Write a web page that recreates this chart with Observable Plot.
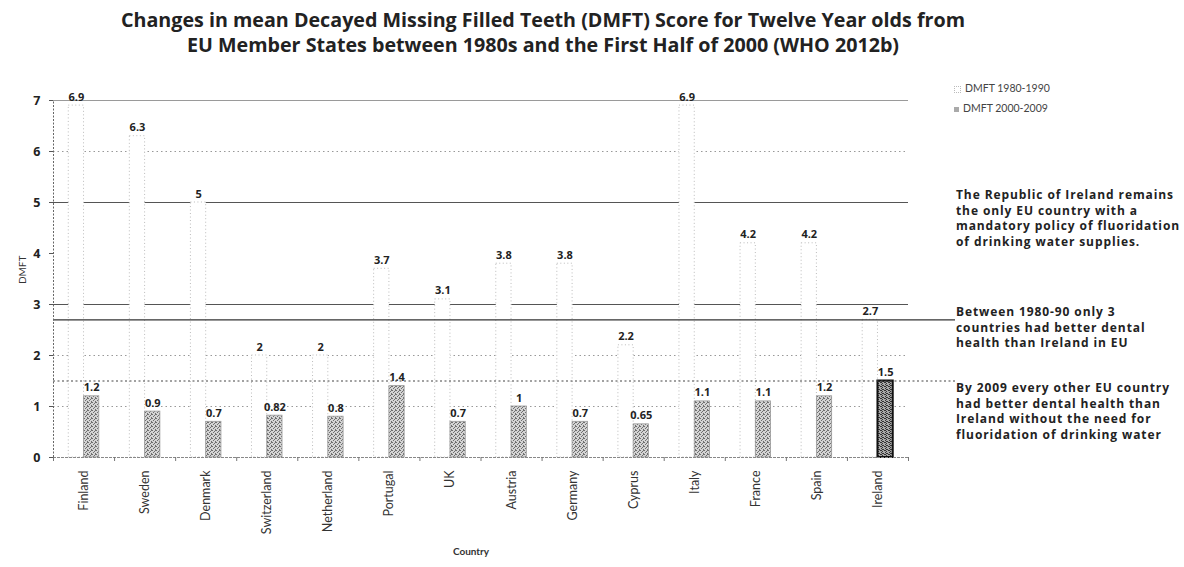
<!DOCTYPE html>
<html><head><meta charset="utf-8">
<script src="https://cdn.jsdelivr.net/npm/d3@7"></script>
<script src="https://cdn.jsdelivr.net/npm/@observablehq/plot@0.6"></script>
<style>
body{margin:0;background:#fff;font-family:Lato,"Open Sans",sans-serif;}
#wrap{position:relative;width:1184px;height:567px;overflow:hidden;background:#fff;}
#title{position:absolute;left:0;top:7px;width:1086px;text-align:center;font-family:"Open Sans",sans-serif;font-weight:700;font-size:19.7px;line-height:25px;color:#222;}
#chart{position:absolute;left:0;top:70px;}
.legend{position:absolute;left:954px;font-size:10.5px;color:#444;line-height:20px;}
.legend span.sw{display:inline-block;width:5px;height:5px;margin-right:4px;vertical-align:middle;}
.note{position:absolute;left:956px;width:228px;font-family:"Open Sans",sans-serif;font-weight:700;font-size:12px;letter-spacing:0.9px;line-height:15.5px;color:#222;white-space:nowrap;}
</style></head><body>
<div id="wrap">
<div id="title">Changes in mean Decayed Missing Filled Teeth (DMFT) Score for Twelve Year olds from<br>EU Member States between 1980s and the First Half of 2000 (WHO 2012b)</div>
<div id="chart"></div>
<div class="legend" style="top:78px">
<div><span class="sw" style="border:1px dotted #bbb;"></span>DMFT 1980-1990</div>
<div><span class="sw" style="background:#aaa;"></span>DMFT 2000-2009</div>
</div>
<div class="note" style="top:187px">The Republic of Ireland remains<br>the only EU country with a<br>mandatory policy of fluoridation<br>of drinking water supplies.</div>
<div class="note" style="top:304px">Between 1980-90 only 3<br>countries had better dental<br>health than Ireland in EU</div>
<div class="note" style="top:380px">By 2009 every other EU country<br>had better dental health than<br>Ireland without the need for<br>fluoridation of drinking water</div>
</div>
<script>
const countries = ["Finland","Sweden","Denmark","Switzerland","Netherland","Portugal","UK","Austria","Germany","Cyprus","Italy","France","Spain","Ireland"];
const dmft1980 = [6.9, 6.3, 5, 2, 2, 3.7, 3.1, 3.8, 3.8, 2.2, 6.9, 4.2, 4.2, 2.7];
const dmft2000 = [1.2, 0.9, 0.7, 0.82, 0.8, 1.4, 0.7, 1, 0.7, 0.65, 1.1, 1.1, 1.2, 1.5];
const yTicks = [0, 1, 2, 3, 4, 5, 6, 7];
const solidGrid = [7, 5, 3];
const dottedGrid = [6, 2, 1];
const focus = "Ireland";

const data = countries.map((c, i) => ({country: c, i, v1980: dmft1980[i], v2000: dmft2000[i]}));
const focusRow = data.find(d => d.country === focus);
const n = countries.length;

const chart = Plot.plot({
  width: 1184,
  height: 497,
  marginTop: 30,
  marginBottom: 110,
  marginLeft: 53,
  marginRight: 229,
  style: {fontFamily: "'Open Sans', sans-serif", fontSize: "11px", color: "#222", background: "white"},
  x: {domain: [0, n], range: [53, 908]},
  y: {domain: [0, 7]},
  marks: [
    Plot.ruleY(solidGrid, {x1: 0, x2: n, stroke: d => d === 7 ? "#9a9a9a" : "#555", strokeWidth: 1}),
    Plot.ruleY(dottedGrid, {x1: 0, x2: n, stroke: "#999", strokeDasharray: "1.5,3"}),
    Plot.rectY(data, {x1: d => d.i + 0.25, x2: d => d.i + 0.5, y: "v1980", fill: "white", stroke: "#bbb", strokeDasharray: "1,2.5", strokeWidth: 1}),
    Plot.rectY(data.filter(d => d.country !== focus), {x1: d => d.i + 0.5, x2: d => d.i + 0.75, y: "v2000", fill: "url(#stip)", stroke: "#9a9a9a", strokeWidth: 0.8}),
    Plot.rectY(data.filter(d => d.country === focus), {x1: d => d.i + 0.5, x2: d => d.i + 0.75, y: "v2000", fill: "url(#stipDark)", stroke: "#111", strokeWidth: 2}),
    Plot.ruleY([focusRow.v1980], {stroke: "#333", strokeWidth: 1.2}),
    Plot.ruleY([focusRow.v2000], {stroke: "#444", strokeDasharray: "2,2.5", strokeWidth: 1}),
    Plot.ruleY([0], {x1: 0, x2: n, stroke: "#888", strokeDasharray: "3,1"}),
    Plot.ruleX([0], {y1: 0, y2: 7, stroke: "#666", strokeDasharray: "2,1.5"}),
    Plot.text(data, {x: d => d.i + 0.375, y: "v1980", text: d => String(d.v1980), lineAnchor: "bottom", dy: -5, fontWeight: "bold", fontSize: 11, fill: "#222"}),
    Plot.text(data, {x: d => d.i + 0.625, y: "v2000", text: d => String(d.v2000), lineAnchor: "bottom", dy: -5, fontWeight: "bold", fontSize: 11, fill: "#222"}),
    Plot.axisY({ticks: yTicks, tickFormat: d => String(d), tickSize: 4, tickPadding: 9, fontWeight: "bold", fontSize: 12.5, label: null, stroke: "#555"}),
    Plot.axisX({ticks: d3.range(0, n + 1), tickFormat: () => "", tickSize: 4, label: null, stroke: "#777"}),
    Plot.axisX({ticks: countries.map((c, i) => i + 0.5), tickFormat: d => countries[Math.floor(d)], tickRotate: -90, tickSize: 0, tickPadding: 13, fontSize: 12.5, fontFamily: "Lato, sans-serif", fill: "#333", label: null}),
    Plot.text(["DMFT"], {y: () => 3.4, frameAnchor: "left", dx: -31, rotate: -90, fontSize: 10, fontFamily: "Lato, sans-serif", fill: "#333"}),
    Plot.text(["Country"], {x: () => n / 2, frameAnchor: "bottom", dx: -10, dy: 97, fontSize: 10, fontWeight: "bold", fontFamily: "Lato, sans-serif", fill: "#333"})
  ]
});

const svg = d3.select(chart);
const defs = svg.insert("defs", ":first-child");
const p1 = defs.append("pattern").attr("id", "stip").attr("width", 4).attr("height", 4).attr("patternUnits", "userSpaceOnUse");
p1.append("rect").attr("width", 4).attr("height", 4).attr("fill", "#d4d4d4");
[[0,0],[2,1],[1,2],[3,3],[3,0]].forEach(([x, y]) => p1.append("rect").attr("x", x).attr("y", y).attr("width", 1).attr("height", 1).attr("fill", "#6f6f6f"));
const p2 = defs.append("pattern").attr("id", "stipDark").attr("width", 4).attr("height", 4).attr("patternUnits", "userSpaceOnUse");
p2.append("rect").attr("width", 4).attr("height", 4).attr("fill", "#a8a8a8");
[[0,0],[2,1],[1,2],[3,3],[1,0],[2,3]].forEach(([x, y]) => p2.append("rect").attr("x", x).attr("y", y).attr("width", 1).attr("height", 1).attr("fill", "#333"));

document.getElementById("chart").appendChild(chart);
</script>
</body></html>
